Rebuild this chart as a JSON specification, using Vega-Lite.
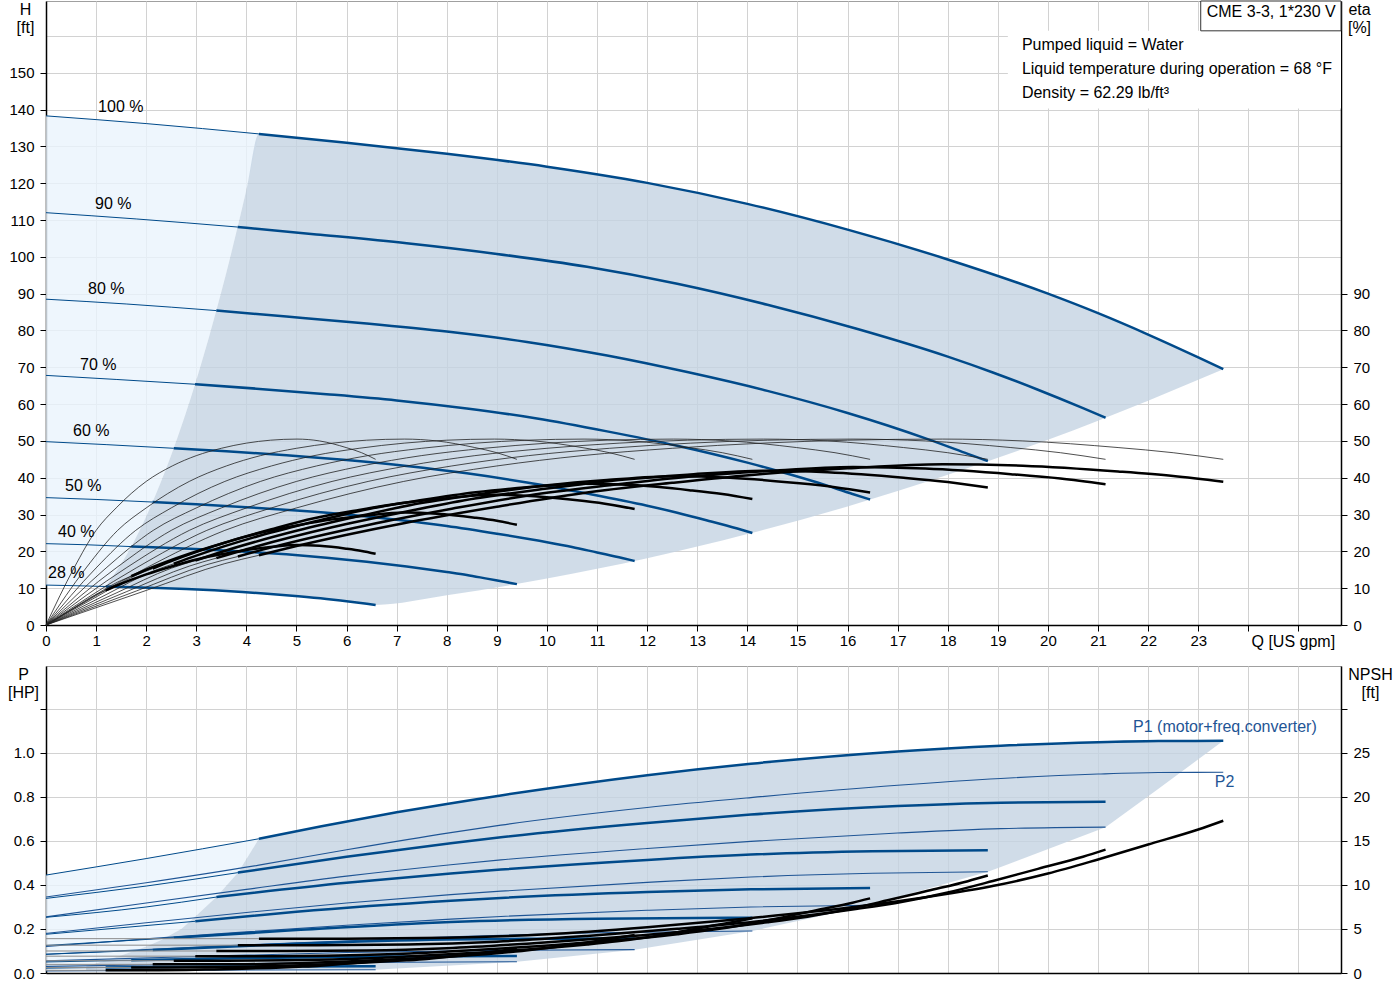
{
"$schema": "https://vega.github.io/schema/vega-lite/v6.json",
"padding": {"left": 6, "top": 0, "right": 0, "bottom": 0},
"autosize": {"type": "pad"},
"background": "white",
"spacing": 41,
"bounds": "flush",
"config": {
  "font": "Liberation Sans",
  "view": {"stroke": "#a0a0a0", "strokeWidth": 1},
  "axis": {"labelFont": "Liberation Sans", "titleFont": "Liberation Sans", "labelFontSize": 15, "titleFontSize": 16, "titleFontWeight": "normal", "labelColor": "#000", "titleColor": "#000", "domainColor": "#000", "tickColor": "#000", "gridColor": "#d2d2d2", "gridWidth": 1, "domainWidth": 1.5, "tickSize": 6},
  "text": {"font": "Liberation Sans"}
},
"datasets": {
  "lightTop": [
    {"Q":0,"H":138.3,"H2":10.84},{"Q":0.56,"H":137.7,"H2":10.68},{"Q":1.19,"H":137.0,"H2":10.46},{"Q":1.5,"H":136.7,"H2":16.6},{"Q":2,"H":136.2,"H2":29.5},{"Q":2.5,"H":135.6,"H2":46.2},{"Q":3,"H":135.0,"H2":66.5},{"Q":3.5,"H":134.3,"H2":90.5},{"Q":4,"H":133.7,"H2":118.2},{"Q":4.25,"H":133.4,"H2":133.4}
  ],
  "darkTop": [
    {"Q":1.19,"H":10.46,"H2":10.46},{"Q":1.5,"H":16.6,"H2":10.33},{"Q":2,"H":29.5,"H2":10.15},{"Q":2.5,"H":46.2,"H2":9.93},{"Q":3,"H":66.5,"H2":9.67},{"Q":3.5,"H":90.5,"H2":9.32},{"Q":4,"H":118.2,"H2":8.88},{"Q":4.25,"H":133.4,"H2":8.65},{"Q":5,"H":132.4,"H2":7.83},{"Q":5.6,"H":131.5,"H2":7.06},{"Q":6,"H":131.0,"H2":6.44},{"Q":6.58,"H":130.1,"H2":5.45},{"Q":8,"H":128.0,"H2":8.05},{"Q":10,"H":124.5,"H2":12.6},{"Q":12,"H":120.1,"H2":18.1},{"Q":14,"H":114.4,"H2":24.7},{"Q":16,"H":107.4,"H2":32.2},{"Q":18,"H":99.3,"H2":40.8},{"Q":20,"H":90.0,"H2":50.3},{"Q":21,"H":84.7,"H2":55.5},{"Q":22,"H":78.9,"H2":60.9},{"Q":23,"H":72.7,"H2":66.6},{"Q":23.5,"H":69.5,"H2":69.5}
  ],
  "whiteBox": [{"Q":19.2,"Q2":25.85,"H":140.3,"H2":161.4}],
  "cmeBox": [{"Q":23.05,"Q2":25.85,"H":161.4,"H2":169.5}],
  "cmeText": [{"Q":23.17,"H":166.4,"t":"CME 3-3, 1*230 V"}],
  "notes": [
    {"Q":19.48,"H":157.6,"t":"Pumped liquid = Water"},
    {"Q":19.48,"H":151.1,"t":"Liquid temperature during operation = 68 °F"},
    {"Q":19.48,"H":144.6,"t":"Density = 62.29 lb/ft³"}
  ],
  "speedLbl": [
    {"Q":1.04,"H":140.8,"t":"100 %"},{"Q":0.98,"H":114.4,"t":"90 %"},{"Q":0.84,"H":91.3,"t":"80 %"},{"Q":0.68,"H":70.7,"t":"70 %"},{"Q":0.54,"H":52.7,"t":"60 %"},{"Q":0.38,"H":37.8,"t":"50 %"},{"Q":0.24,"H":25.3,"t":"40 %"},{"Q":0.04,"H":14.1,"t":"28 %"}
  ],
  "Hc": [
    {"s":1,"Q":0,"H":138.3},{"s":1,"Q":2,"H":136.2},{"s":1,"Q":4.25,"H":133.4},{"s":1,"Q":6,"H":131.0},{"s":1,"Q":8,"H":128.0},{"s":1,"Q":10,"H":124.5},{"s":1,"Q":12,"H":120.1},{"s":1,"Q":14,"H":114.4},{"s":1,"Q":16,"H":107.4},{"s":1,"Q":18,"H":99.3},{"s":1,"Q":20,"H":90.0},{"s":1,"Q":21,"H":84.7},{"s":1,"Q":22,"H":78.9},{"s":1,"Q":23,"H":72.7},{"s":1,"Q":23.5,"H":69.5},
    {"s":0.9,"Q":0,"H":112.0},{"s":0.9,"Q":1.8,"H":110.3},{"s":0.9,"Q":3.825,"H":108.1},{"s":0.9,"Q":5.4,"H":106.1},{"s":0.9,"Q":7.2,"H":103.7},{"s":0.9,"Q":9,"H":100.8},{"s":0.9,"Q":10.8,"H":97.3},{"s":0.9,"Q":12.6,"H":92.7},{"s":0.9,"Q":14.4,"H":87.0},{"s":0.9,"Q":16.2,"H":80.4},{"s":0.9,"Q":18,"H":72.9},{"s":0.9,"Q":18.9,"H":68.6},{"s":0.9,"Q":19.8,"H":63.9},{"s":0.9,"Q":20.7,"H":58.9},{"s":0.9,"Q":21.15,"H":56.3},
    {"s":0.8,"Q":0,"H":88.5},{"s":0.8,"Q":1.6,"H":87.2},{"s":0.8,"Q":3.4,"H":85.4},{"s":0.8,"Q":4.8,"H":83.8},{"s":0.8,"Q":6.4,"H":81.9},{"s":0.8,"Q":8,"H":79.7},{"s":0.8,"Q":9.6,"H":76.9},{"s":0.8,"Q":11.2,"H":73.2},{"s":0.8,"Q":12.8,"H":68.7},{"s":0.8,"Q":14.4,"H":63.6},{"s":0.8,"Q":16,"H":57.6},{"s":0.8,"Q":16.8,"H":54.2},{"s":0.8,"Q":17.6,"H":50.5},{"s":0.8,"Q":18.4,"H":46.5},{"s":0.8,"Q":18.8,"H":44.5},
    {"s":0.7,"Q":0,"H":67.8},{"s":0.7,"Q":1.4,"H":66.7},{"s":0.7,"Q":2.975,"H":65.4},{"s":0.7,"Q":4.2,"H":64.2},{"s":0.7,"Q":5.6,"H":62.7},{"s":0.7,"Q":7,"H":61.0},{"s":0.7,"Q":8.4,"H":58.8},{"s":0.7,"Q":9.8,"H":56.1},{"s":0.7,"Q":11.2,"H":52.6},{"s":0.7,"Q":12.6,"H":48.7},{"s":0.7,"Q":14,"H":44.1},{"s":0.7,"Q":14.7,"H":41.5},{"s":0.7,"Q":15.4,"H":38.7},{"s":0.7,"Q":16.1,"H":35.6},{"s":0.7,"Q":16.45,"H":34.1},
    {"s":0.6,"Q":0,"H":49.8},{"s":0.6,"Q":1.2,"H":49.0},{"s":0.6,"Q":2.55,"H":48.0},{"s":0.6,"Q":3.6,"H":47.2},{"s":0.6,"Q":4.8,"H":46.1},{"s":0.6,"Q":6,"H":44.8},{"s":0.6,"Q":7.2,"H":43.2},{"s":0.6,"Q":8.4,"H":41.2},{"s":0.6,"Q":9.6,"H":38.7},{"s":0.6,"Q":10.8,"H":35.7},{"s":0.6,"Q":12,"H":32.4},{"s":0.6,"Q":12.6,"H":30.5},{"s":0.6,"Q":13.2,"H":28.4},{"s":0.6,"Q":13.8,"H":26.2},{"s":0.6,"Q":14.1,"H":25.0},
    {"s":0.5,"Q":0,"H":34.6},{"s":0.5,"Q":1,"H":34.1},{"s":0.5,"Q":2.125,"H":33.4},{"s":0.5,"Q":3,"H":32.8},{"s":0.5,"Q":4,"H":32.0},{"s":0.5,"Q":5,"H":31.1},{"s":0.5,"Q":6,"H":30.0},{"s":0.5,"Q":7,"H":28.6},{"s":0.5,"Q":8,"H":26.9},{"s":0.5,"Q":9,"H":24.8},{"s":0.5,"Q":10,"H":22.5},{"s":0.5,"Q":10.5,"H":21.2},{"s":0.5,"Q":11,"H":19.7},{"s":0.5,"Q":11.5,"H":18.2},{"s":0.5,"Q":11.75,"H":17.4},
    {"s":0.4,"Q":0,"H":22.1},{"s":0.4,"Q":0.8,"H":21.8},{"s":0.4,"Q":1.7,"H":21.3},{"s":0.4,"Q":2.4,"H":21.0},{"s":0.4,"Q":3.2,"H":20.5},{"s":0.4,"Q":4,"H":19.9},{"s":0.4,"Q":4.8,"H":19.2},{"s":0.4,"Q":5.6,"H":18.3},{"s":0.4,"Q":6.4,"H":17.2},{"s":0.4,"Q":7.2,"H":15.9},{"s":0.4,"Q":8,"H":14.4},{"s":0.4,"Q":8.4,"H":13.6},{"s":0.4,"Q":8.8,"H":12.6},{"s":0.4,"Q":9.2,"H":11.6},{"s":0.4,"Q":9.4,"H":11.1},
    {"s":0.28,"Q":0,"H":10.84},{"s":0.28,"Q":0.56,"H":10.68},{"s":0.28,"Q":1.19,"H":10.46},{"s":0.28,"Q":1.68,"H":10.27},{"s":0.28,"Q":2.24,"H":10.04},{"s":0.28,"Q":2.8,"H":9.76},{"s":0.28,"Q":3.36,"H":9.42},{"s":0.28,"Q":3.92,"H":8.97},{"s":0.28,"Q":4.48,"H":8.42},{"s":0.28,"Q":5.04,"H":7.79},{"s":0.28,"Q":5.6,"H":7.06},{"s":0.28,"Q":5.88,"H":6.64},{"s":0.28,"Q":6.16,"H":6.19},{"s":0.28,"Q":6.44,"H":5.7},{"s":0.28,"Q":6.58,"H":5.45}
  ],
  "etaP": [
    {"s":1,"Q":0,"E":0},{"s":1,"Q":2,"E":15.5},{"s":1,"Q":3.57,"E":25.7},{"s":1,"Q":5,"E":31.8},{"s":1,"Q":7.14,"E":39},{"s":1,"Q":9,"E":43.2},{"s":1,"Q":10.7,"E":46},{"s":1,"Q":12.5,"E":48},{"s":1,"Q":14.3,"E":49.4},{"s":1,"Q":16,"E":50.2},{"s":1,"Q":17.9,"E":50.5},{"s":1,"Q":19.5,"E":50},{"s":1,"Q":21.4,"E":48.2},{"s":1,"Q":22.5,"E":46.8},{"s":1,"Q":23.5,"E":45},
    {"s":0.9,"Q":0,"E":0},{"s":0.9,"Q":1.8,"E":15.5},{"s":0.9,"Q":3.21,"E":25.7},{"s":0.9,"Q":4.5,"E":31.8},{"s":0.9,"Q":6.43,"E":39},{"s":0.9,"Q":8.1,"E":43.2},{"s":0.9,"Q":9.63,"E":46},{"s":0.9,"Q":11.25,"E":48},{"s":0.9,"Q":12.87,"E":49.4},{"s":0.9,"Q":14.4,"E":50.2},{"s":0.9,"Q":16.11,"E":50.5},{"s":0.9,"Q":17.55,"E":50},{"s":0.9,"Q":19.26,"E":48.2},{"s":0.9,"Q":20.25,"E":46.8},{"s":0.9,"Q":21.15,"E":45},
    {"s":0.8,"Q":0,"E":0},{"s":0.8,"Q":1.6,"E":15.5},{"s":0.8,"Q":2.86,"E":25.7},{"s":0.8,"Q":4,"E":31.8},{"s":0.8,"Q":5.71,"E":39},{"s":0.8,"Q":7.2,"E":43.2},{"s":0.8,"Q":8.56,"E":46},{"s":0.8,"Q":10,"E":48},{"s":0.8,"Q":11.44,"E":49.4},{"s":0.8,"Q":12.8,"E":50.2},{"s":0.8,"Q":14.32,"E":50.5},{"s":0.8,"Q":15.6,"E":50},{"s":0.8,"Q":17.12,"E":48.2},{"s":0.8,"Q":18,"E":46.8},{"s":0.8,"Q":18.8,"E":45},
    {"s":0.7,"Q":0,"E":0},{"s":0.7,"Q":1.4,"E":15.5},{"s":0.7,"Q":2.5,"E":25.7},{"s":0.7,"Q":3.5,"E":31.8},{"s":0.7,"Q":5,"E":39},{"s":0.7,"Q":6.3,"E":43.2},{"s":0.7,"Q":7.49,"E":46},{"s":0.7,"Q":8.75,"E":48},{"s":0.7,"Q":10.01,"E":49.4},{"s":0.7,"Q":11.2,"E":50.2},{"s":0.7,"Q":12.53,"E":50.5},{"s":0.7,"Q":13.65,"E":50},{"s":0.7,"Q":14.98,"E":48.2},{"s":0.7,"Q":15.75,"E":46.8},{"s":0.7,"Q":16.45,"E":45},
    {"s":0.6,"Q":0,"E":0},{"s":0.6,"Q":1.2,"E":15.5},{"s":0.6,"Q":2.14,"E":25.7},{"s":0.6,"Q":3,"E":31.8},{"s":0.6,"Q":4.28,"E":39},{"s":0.6,"Q":5.4,"E":43.2},{"s":0.6,"Q":6.42,"E":46},{"s":0.6,"Q":7.5,"E":48},{"s":0.6,"Q":8.58,"E":49.4},{"s":0.6,"Q":9.6,"E":50.2},{"s":0.6,"Q":10.74,"E":50.5},{"s":0.6,"Q":11.7,"E":50},{"s":0.6,"Q":12.84,"E":48.2},{"s":0.6,"Q":13.5,"E":46.8},{"s":0.6,"Q":14.1,"E":45},
    {"s":0.5,"Q":0,"E":0},{"s":0.5,"Q":1,"E":15.5},{"s":0.5,"Q":1.79,"E":25.7},{"s":0.5,"Q":2.5,"E":31.8},{"s":0.5,"Q":3.57,"E":39},{"s":0.5,"Q":4.5,"E":43.2},{"s":0.5,"Q":5.35,"E":46},{"s":0.5,"Q":6.25,"E":48},{"s":0.5,"Q":7.15,"E":49.4},{"s":0.5,"Q":8,"E":50.2},{"s":0.5,"Q":8.95,"E":50.5},{"s":0.5,"Q":9.75,"E":50},{"s":0.5,"Q":10.7,"E":48.2},{"s":0.5,"Q":11.25,"E":46.8},{"s":0.5,"Q":11.75,"E":45},
    {"s":0.4,"Q":0,"E":0},{"s":0.4,"Q":0.8,"E":15.5},{"s":0.4,"Q":1.43,"E":25.7},{"s":0.4,"Q":2,"E":31.8},{"s":0.4,"Q":2.86,"E":39},{"s":0.4,"Q":3.6,"E":43.2},{"s":0.4,"Q":4.28,"E":46},{"s":0.4,"Q":5,"E":48},{"s":0.4,"Q":5.72,"E":49.4},{"s":0.4,"Q":6.4,"E":50.2},{"s":0.4,"Q":7.16,"E":50.5},{"s":0.4,"Q":7.8,"E":50},{"s":0.4,"Q":8.56,"E":48.2},{"s":0.4,"Q":9,"E":46.8},{"s":0.4,"Q":9.4,"E":45},
    {"s":0.28,"Q":0,"E":0},{"s":0.28,"Q":0.56,"E":15.5},{"s":0.28,"Q":1,"E":25.7},{"s":0.28,"Q":1.4,"E":31.8},{"s":0.28,"Q":2,"E":39},{"s":0.28,"Q":2.52,"E":43.2},{"s":0.28,"Q":3,"E":46},{"s":0.28,"Q":3.5,"E":48},{"s":0.28,"Q":4,"E":49.4},{"s":0.28,"Q":4.48,"E":50.2},{"s":0.28,"Q":5.01,"E":50.5},{"s":0.28,"Q":5.46,"E":50},{"s":0.28,"Q":5.99,"E":48.2},{"s":0.28,"Q":6.3,"E":46.8},{"s":0.28,"Q":6.58,"E":45}
  ],
  "etaT": [
    {"s":1,"Q":0,"E":0},{"s":1,"Q":2,"E":9.39},{"s":1,"Q":3.57,"E":16.68},{"s":1,"Q":4.25,"E":18.93},{"s":1,"Q":5,"E":21.45},{"s":1,"Q":7.14,"E":27.66},{"s":1,"Q":9,"E":32.13},{"s":1,"Q":10.7,"E":35.81},{"s":1,"Q":12.5,"E":38.61},{"s":1,"Q":14.3,"E":41.02},{"s":1,"Q":16,"E":42.56},{"s":1,"Q":17.9,"E":43.68},{"s":1,"Q":19.5,"E":43.25},{"s":1,"Q":21.4,"E":41.69},{"s":1,"Q":22.5,"E":40.48},{"s":1,"Q":23.5,"E":38.93},
    {"s":0.9,"Q":0,"E":0},{"s":0.9,"Q":1.8,"E":9.22},{"s":0.9,"Q":3.21,"E":16.39},{"s":0.9,"Q":3.83,"E":18.6},{"s":0.9,"Q":4.5,"E":21.08},{"s":0.9,"Q":6.43,"E":27.18},{"s":0.9,"Q":8.1,"E":31.58},{"s":0.9,"Q":9.63,"E":35.19},{"s":0.9,"Q":11.25,"E":37.94},{"s":0.9,"Q":12.87,"E":40.31},{"s":0.9,"Q":14.4,"E":41.82},{"s":0.9,"Q":16.11,"E":42.93},{"s":0.9,"Q":17.55,"E":42.5},{"s":0.9,"Q":19.26,"E":40.97},{"s":0.9,"Q":20.25,"E":39.78},{"s":0.9,"Q":21.15,"E":38.25},
    {"s":0.8,"Q":0,"E":0},{"s":0.8,"Q":1.6,"E":9.01},{"s":0.8,"Q":2.86,"E":16.0},{"s":0.8,"Q":3.4,"E":18.16},{"s":0.8,"Q":4,"E":20.58},{"s":0.8,"Q":5.71,"E":26.54},{"s":0.8,"Q":7.2,"E":30.83},{"s":0.8,"Q":8.56,"E":34.36},{"s":0.8,"Q":10,"E":37.05},{"s":0.8,"Q":11.44,"E":39.36},{"s":0.8,"Q":12.8,"E":40.84},{"s":0.8,"Q":14.32,"E":41.92},{"s":0.8,"Q":15.6,"E":41.5},{"s":0.8,"Q":17.12,"E":40.01},{"s":0.8,"Q":18,"E":38.84},{"s":0.8,"Q":18.8,"E":37.35},
    {"s":0.7,"Q":0,"E":0},{"s":0.7,"Q":1.4,"E":8.68},{"s":0.7,"Q":2.5,"E":15.42},{"s":0.7,"Q":2.98,"E":17.5},{"s":0.7,"Q":3.5,"E":19.84},{"s":0.7,"Q":5,"E":25.58},{"s":0.7,"Q":6.3,"E":29.72},{"s":0.7,"Q":7.49,"E":33.12},{"s":0.7,"Q":8.75,"E":35.71},{"s":0.7,"Q":10.01,"E":37.94},{"s":0.7,"Q":11.2,"E":39.36},{"s":0.7,"Q":12.53,"E":40.4},{"s":0.7,"Q":13.65,"E":40.0},{"s":0.7,"Q":14.98,"E":38.56},{"s":0.7,"Q":15.75,"E":37.44},{"s":0.7,"Q":16.45,"E":36.0},
    {"s":0.6,"Q":0,"E":0},{"s":0.6,"Q":1.2,"E":8.25},{"s":0.6,"Q":2.14,"E":14.65},{"s":0.6,"Q":2.55,"E":16.63},{"s":0.6,"Q":3,"E":18.85},{"s":0.6,"Q":4.28,"E":24.3},{"s":0.6,"Q":5.4,"E":28.23},{"s":0.6,"Q":6.42,"E":31.46},{"s":0.6,"Q":7.5,"E":33.93},{"s":0.6,"Q":8.58,"E":36.04},{"s":0.6,"Q":9.6,"E":37.39},{"s":0.6,"Q":10.74,"E":38.38},{"s":0.6,"Q":11.7,"E":38.0},{"s":0.6,"Q":12.84,"E":36.63},{"s":0.6,"Q":13.5,"E":35.57},{"s":0.6,"Q":14.1,"E":34.2},
    {"s":0.5,"Q":0,"E":0},{"s":0.5,"Q":1,"E":7.6},{"s":0.5,"Q":1.79,"E":13.5},{"s":0.5,"Q":2.13,"E":15.32},{"s":0.5,"Q":2.5,"E":17.36},{"s":0.5,"Q":3.57,"E":22.39},{"s":0.5,"Q":4.5,"E":26.0},{"s":0.5,"Q":5.35,"E":28.98},{"s":0.5,"Q":6.25,"E":31.25},{"s":0.5,"Q":7.15,"E":33.19},{"s":0.5,"Q":8,"E":34.44},{"s":0.5,"Q":8.95,"E":35.35},{"s":0.5,"Q":9.75,"E":35.0},{"s":0.5,"Q":10.7,"E":33.74},{"s":0.5,"Q":11.25,"E":32.76},{"s":0.5,"Q":11.75,"E":31.5},
    {"s":0.4,"Q":0,"E":0},{"s":0.4,"Q":0.8,"E":6.56},{"s":0.4,"Q":1.43,"E":11.66},{"s":0.4,"Q":1.7,"E":13.24},{"s":0.4,"Q":2,"E":15.0},{"s":0.4,"Q":2.86,"E":19.35},{"s":0.4,"Q":3.6,"E":22.48},{"s":0.4,"Q":4.28,"E":25.05},{"s":0.4,"Q":5,"E":27.01},{"s":0.4,"Q":5.72,"E":28.69},{"s":0.4,"Q":6.4,"E":29.77},{"s":0.4,"Q":7.16,"E":30.55},{"s":0.4,"Q":7.8,"E":30.25},{"s":0.4,"Q":8.56,"E":29.16},{"s":0.4,"Q":9,"E":28.31},{"s":0.4,"Q":9.4,"E":27.23},
    {"s":0.28,"Q":0,"E":0},{"s":0.28,"Q":0.56,"E":4.67},{"s":0.28,"Q":1,"E":8.29},{"s":0.28,"Q":1.19,"E":9.41},{"s":0.28,"Q":1.4,"E":10.66},{"s":0.28,"Q":2,"E":13.75},{"s":0.28,"Q":2.52,"E":15.97},{"s":0.28,"Q":3,"E":17.8},{"s":0.28,"Q":3.5,"E":19.2},{"s":0.28,"Q":4,"E":20.39},{"s":0.28,"Q":4.48,"E":21.16},{"s":0.28,"Q":5.01,"E":21.72},{"s":0.28,"Q":5.46,"E":21.5},{"s":0.28,"Q":5.99,"E":20.73},{"s":0.28,"Q":6.3,"E":20.12},{"s":0.28,"Q":6.58,"E":19.35}
  ],
  "lightBot": [
    {"Q":0,"P":0.445,"Pb":0.01},{"Q":0.8,"P":0.475,"Pb":0.03},{"Q":1.04,"P":0.484,"Pb":0.047},{"Q":1.5,"P":0.501,"Pb":0.08},{"Q":2.03,"P":0.521,"Pb":0.123},{"Q":2.3,"P":0.531,"Pb":0.15},{"Q":2.7,"P":0.546,"Pb":0.2},{"Q":2.95,"P":0.556,"Pb":0.25},{"Q":3.4,"P":0.576,"Pb":0.345},{"Q":3.83,"P":0.593,"Pb":0.456},{"Q":4.25,"P":0.61,"Pb":0.61}
  ],
  "darkBot": [
    {"Q":0.8,"P":0.03,"Pb":0.012},{"Q":1.04,"P":0.047,"Pb":0.012},{"Q":1.5,"P":0.08,"Pb":0.012},{"Q":2.03,"P":0.123,"Pb":0.012},{"Q":2.3,"P":0.15,"Pb":0.012},{"Q":2.7,"P":0.2,"Pb":0.012},{"Q":2.95,"P":0.25,"Pb":0.012},{"Q":3.4,"P":0.345,"Pb":0.012},{"Q":3.83,"P":0.456,"Pb":0.012},{"Q":4.25,"P":0.61,"Pb":0.012},{"Q":5.5,"P":0.667,"Pb":0.013},{"Q":6.58,"P":0.712,"Pb":0.015},{"Q":7,"P":0.73,"Pb":0.02},{"Q":9.08,"P":0.807,"Pb":0.047},{"Q":9.4,"P":0.819,"Pb":0.051},{"Q":11.75,"P":0.892,"Pb":0.106},{"Q":12,"P":0.899,"Pb":0.115},{"Q":14.1,"P":0.952,"Pb":0.191},{"Q":16.45,"P":0.998,"Pb":0.308},{"Q":17,"P":1.007,"Pb":0.344},{"Q":18.8,"P":1.031,"Pb":0.46},{"Q":19.06,"P":1.033,"Pb":0.482},{"Q":21.15,"P":1.05,"Pb":0.662},{"Q":22.2,"P":1.054,"Pb":0.836},{"Q":23.5,"P":1.055,"Pb":1.055}
  ],
  "P1c": [
    {"s":1,"Q":0,"P":0.445},{"s":1,"Q":2,"P":0.52},{"s":1,"Q":4.25,"P":0.61},{"s":1,"Q":5.5,"P":0.667},{"s":1,"Q":7,"P":0.73},{"s":1,"Q":9.08,"P":0.807},{"s":1,"Q":12,"P":0.899},{"s":1,"Q":14.07,"P":0.951},{"s":1,"Q":17,"P":1.007},{"s":1,"Q":19.06,"P":1.033},{"s":1,"Q":21,"P":1.049},{"s":1,"Q":22.2,"P":1.054},{"s":1,"Q":23.5,"P":1.055},
    {"s":0.9,"Q":0,"P":0.339},{"s":0.9,"Q":2,"P":0.395},{"s":0.9,"Q":3.83,"P":0.456},{"s":0.9,"Q":6,"P":0.528},{"s":0.9,"Q":8.08,"P":0.59},{"s":0.9,"Q":9.08,"P":0.617},{"s":0.9,"Q":12,"P":0.682},{"s":0.9,"Q":14.07,"P":0.72},{"s":0.9,"Q":17,"P":0.759},{"s":0.9,"Q":19.06,"P":0.774},{"s":0.9,"Q":21.15,"P":0.778},
    {"s":0.8,"Q":0,"P":0.253},{"s":0.8,"Q":2,"P":0.3},{"s":0.8,"Q":3.4,"P":0.345},{"s":0.8,"Q":6,"P":0.41},{"s":0.8,"Q":8.08,"P":0.452},{"s":0.8,"Q":9.08,"P":0.47},{"s":0.8,"Q":12,"P":0.514},{"s":0.8,"Q":14.07,"P":0.538},{"s":0.8,"Q":16.5,"P":0.553},{"s":0.8,"Q":18.8,"P":0.558},
    {"s":0.7,"Q":0,"P":0.176},{"s":0.7,"Q":2.98,"P":0.235},{"s":0.7,"Q":5,"P":0.278},{"s":0.7,"Q":8.08,"P":0.328},{"s":0.7,"Q":9.08,"P":0.341},{"s":0.7,"Q":12,"P":0.368},{"s":0.7,"Q":14.07,"P":0.38},{"s":0.7,"Q":16.45,"P":0.386},
    {"s":0.6,"Q":0,"P":0.125},{"s":0.6,"Q":2.55,"P":0.16},{"s":0.6,"Q":5,"P":0.195},{"s":0.6,"Q":8.08,"P":0.232},{"s":0.6,"Q":11,"P":0.247},{"s":0.6,"Q":14.1,"P":0.251},
    {"s":0.5,"Q":0,"P":0.085},{"s":0.5,"Q":2.13,"P":0.105},{"s":0.5,"Q":5,"P":0.133},{"s":0.5,"Q":8,"P":0.152},{"s":0.5,"Q":10,"P":0.156},{"s":0.5,"Q":11.75,"P":0.157},
    {"s":0.4,"Q":0,"P":0.05},{"s":0.4,"Q":1.7,"P":0.058},{"s":0.4,"Q":4,"P":0.068},{"s":0.4,"Q":7,"P":0.075},{"s":0.4,"Q":9.4,"P":0.077},
    {"s":0.28,"Q":0,"P":0.022},{"s":0.28,"Q":1.19,"P":0.025},{"s":0.28,"Q":3.5,"P":0.029},{"s":0.28,"Q":6.58,"P":0.031}
  ],
  "P2c": [
    {"s":1,"Q":0,"P":0.345},{"s":1,"Q":2,"P":0.41},{"s":1,"Q":4.25,"P":0.49},{"s":1,"Q":6,"P":0.56},{"s":1,"Q":8.08,"P":0.638},{"s":1,"Q":9.08,"P":0.672},{"s":1,"Q":12,"P":0.752},{"s":1,"Q":14.07,"P":0.797},{"s":1,"Q":17,"P":0.853},{"s":1,"Q":19.06,"P":0.884},{"s":1,"Q":21,"P":0.904},{"s":1,"Q":22.2,"P":0.911},{"s":1,"Q":23.5,"P":0.912},
    {"s":0.9,"Q":0,"P":0.255},{"s":0.9,"Q":2,"P":0.318},{"s":0.9,"Q":4,"P":0.38},{"s":0.9,"Q":6,"P":0.44},{"s":0.9,"Q":8.08,"P":0.492},{"s":0.9,"Q":9.08,"P":0.514},{"s":0.9,"Q":12,"P":0.566},{"s":0.9,"Q":14.07,"P":0.598},{"s":0.9,"Q":17,"P":0.636},{"s":0.9,"Q":19.06,"P":0.656},{"s":0.9,"Q":21.15,"P":0.663},
    {"s":0.8,"Q":0,"P":0.18},{"s":0.8,"Q":2,"P":0.228},{"s":0.8,"Q":4,"P":0.275},{"s":0.8,"Q":6,"P":0.318},{"s":0.8,"Q":8.08,"P":0.356},{"s":0.8,"Q":9.08,"P":0.372},{"s":0.8,"Q":12,"P":0.412},{"s":0.8,"Q":14.07,"P":0.436},{"s":0.8,"Q":16.5,"P":0.453},{"s":0.8,"Q":18.8,"P":0.46},
    {"s":0.7,"Q":0,"P":0.12},{"s":0.7,"Q":2,"P":0.155},{"s":0.7,"Q":4,"P":0.187},{"s":0.7,"Q":6,"P":0.217},{"s":0.7,"Q":8.08,"P":0.245},{"s":0.7,"Q":9.08,"P":0.257},{"s":0.7,"Q":12,"P":0.285},{"s":0.7,"Q":14.07,"P":0.3},{"s":0.7,"Q":16.45,"P":0.308},
    {"s":0.6,"Q":0,"P":0.085},{"s":0.6,"Q":2,"P":0.107},{"s":0.6,"Q":4,"P":0.128},{"s":0.6,"Q":8.08,"P":0.165},{"s":0.6,"Q":11,"P":0.183},{"s":0.6,"Q":14.1,"P":0.191},
    {"s":0.5,"Q":0,"P":0.055},{"s":0.5,"Q":3,"P":0.075},{"s":0.5,"Q":6,"P":0.093},{"s":0.5,"Q":9,"P":0.103},{"s":0.5,"Q":11.75,"P":0.106},
    {"s":0.4,"Q":0,"P":0.03},{"s":0.4,"Q":3,"P":0.04},{"s":0.4,"Q":6,"P":0.048},{"s":0.4,"Q":9.4,"P":0.051},
    {"s":0.28,"Q":0,"P":0.009},{"s":0.28,"Q":3,"P":0.013},{"s":0.28,"Q":6.58,"P":0.015}
  ],
  "pLbl": [
    {"Q":21.7,"P":1.118,"t":"P1 (motor+freq.converter)"},{"Q":23.33,"P":0.868,"t":"P2"}
  ],
  "Nc": [
    {"s":1,"Q":0,"N":3.9},{"s":1,"Q":4.25,"N":3.9},{"s":1,"Q":6,"N":3.9},{"s":1,"Q":8,"N":4.0},{"s":1,"Q":10,"N":4.4},{"s":1,"Q":12,"N":5.2},{"s":1,"Q":14,"N":6.2},{"s":1,"Q":16,"N":7.4},{"s":1,"Q":18,"N":9.0},{"s":1,"Q":19,"N":10.0},{"s":1,"Q":20,"N":11.3},{"s":1,"Q":21,"N":12.9},{"s":1,"Q":22,"N":14.6},{"s":1,"Q":23,"N":16.3},{"s":1,"Q":23.5,"N":17.3},
    {"s":0.9,"Q":0,"N":3.16},{"s":0.9,"Q":3.83,"N":3.16},{"s":0.9,"Q":5.4,"N":3.16},{"s":0.9,"Q":7.2,"N":3.24},{"s":0.9,"Q":9,"N":3.56},{"s":0.9,"Q":10.8,"N":4.21},{"s":0.9,"Q":12.6,"N":5.02},{"s":0.9,"Q":14.4,"N":5.99},{"s":0.9,"Q":16.2,"N":7.29},{"s":0.9,"Q":17.1,"N":8.1},{"s":0.9,"Q":18,"N":9.15},{"s":0.9,"Q":18.9,"N":10.45},{"s":0.9,"Q":19.8,"N":11.83},{"s":0.9,"Q":20.7,"N":13.2},{"s":0.9,"Q":21.15,"N":14.01},
    {"s":0.8,"Q":0,"N":2.5},{"s":0.8,"Q":3.4,"N":2.5},{"s":0.8,"Q":4.8,"N":2.5},{"s":0.8,"Q":6.4,"N":2.56},{"s":0.8,"Q":8,"N":2.82},{"s":0.8,"Q":9.6,"N":3.33},{"s":0.8,"Q":11.2,"N":3.97},{"s":0.8,"Q":12.8,"N":4.74},{"s":0.8,"Q":14.4,"N":5.76},{"s":0.8,"Q":15.2,"N":6.4},{"s":0.8,"Q":16,"N":7.23},{"s":0.8,"Q":16.8,"N":8.26},{"s":0.8,"Q":17.6,"N":9.34},{"s":0.8,"Q":18.4,"N":10.43},{"s":0.8,"Q":18.8,"N":11.07},
    {"s":0.7,"Q":0,"N":1.91},{"s":0.7,"Q":2.98,"N":1.91},{"s":0.7,"Q":4.2,"N":1.91},{"s":0.7,"Q":5.6,"N":1.96},{"s":0.7,"Q":7,"N":2.16},{"s":0.7,"Q":8.4,"N":2.55},{"s":0.7,"Q":9.8,"N":3.04},{"s":0.7,"Q":11.2,"N":3.63},{"s":0.7,"Q":12.6,"N":4.41},{"s":0.7,"Q":13.3,"N":4.9},{"s":0.7,"Q":14,"N":5.54},{"s":0.7,"Q":14.7,"N":6.32},{"s":0.7,"Q":15.4,"N":7.15},{"s":0.7,"Q":16.1,"N":7.99},{"s":0.7,"Q":16.45,"N":8.48},
    {"s":0.6,"Q":0,"N":1.4},{"s":0.6,"Q":2.55,"N":1.4},{"s":0.6,"Q":3.6,"N":1.4},{"s":0.6,"Q":4.8,"N":1.44},{"s":0.6,"Q":6,"N":1.58},{"s":0.6,"Q":7.2,"N":1.87},{"s":0.6,"Q":8.4,"N":2.23},{"s":0.6,"Q":9.6,"N":2.66},{"s":0.6,"Q":10.8,"N":3.24},{"s":0.6,"Q":11.4,"N":3.6},{"s":0.6,"Q":12,"N":4.07},{"s":0.6,"Q":12.6,"N":4.64},{"s":0.6,"Q":13.2,"N":5.26},{"s":0.6,"Q":13.8,"N":5.87},{"s":0.6,"Q":14.1,"N":6.23},
    {"s":0.5,"Q":0,"N":0.98},{"s":0.5,"Q":2.13,"N":0.98},{"s":0.5,"Q":3,"N":0.98},{"s":0.5,"Q":4,"N":1.0},{"s":0.5,"Q":5,"N":1.1},{"s":0.5,"Q":6,"N":1.3},{"s":0.5,"Q":7,"N":1.55},{"s":0.5,"Q":8,"N":1.85},{"s":0.5,"Q":9,"N":2.25},{"s":0.5,"Q":9.5,"N":2.5},{"s":0.5,"Q":10,"N":2.83},{"s":0.5,"Q":10.5,"N":3.23},{"s":0.5,"Q":11,"N":3.65},{"s":0.5,"Q":11.5,"N":4.08},{"s":0.5,"Q":11.75,"N":4.33},
    {"s":0.4,"Q":0,"N":0.62},{"s":0.4,"Q":1.7,"N":0.62},{"s":0.4,"Q":2.4,"N":0.62},{"s":0.4,"Q":3.2,"N":0.64},{"s":0.4,"Q":4,"N":0.7},{"s":0.4,"Q":4.8,"N":0.83},{"s":0.4,"Q":5.6,"N":0.99},{"s":0.4,"Q":6.4,"N":1.18},{"s":0.4,"Q":7.2,"N":1.44},{"s":0.4,"Q":7.6,"N":1.6},{"s":0.4,"Q":8,"N":1.81},{"s":0.4,"Q":8.4,"N":2.06},{"s":0.4,"Q":8.8,"N":2.34},{"s":0.4,"Q":9.2,"N":2.61},{"s":0.4,"Q":9.4,"N":2.77},
    {"s":0.28,"Q":0,"N":0.31},{"s":0.28,"Q":1.19,"N":0.31},{"s":0.28,"Q":1.68,"N":0.31},{"s":0.28,"Q":2.24,"N":0.31},{"s":0.28,"Q":2.8,"N":0.34},{"s":0.28,"Q":3.36,"N":0.41},{"s":0.28,"Q":3.92,"N":0.49},{"s":0.28,"Q":4.48,"N":0.58},{"s":0.28,"Q":5.04,"N":0.71},{"s":0.28,"Q":5.32,"N":0.78},{"s":0.28,"Q":5.6,"N":0.89},{"s":0.28,"Q":5.88,"N":1.01},{"s":0.28,"Q":6.16,"N":1.14},{"s":0.28,"Q":6.44,"N":1.28},{"s":0.28,"Q":6.58,"N":1.36}
  ]
},
"vconcat": [
  {
    "width": 1295, "height": 624,
    "resolve": {"scale": {"y": "independent"}},
    "encoding": {
      "x": {"field": "Q", "type": "quantitative", "scale": {"domain": [0, 25.85], "nice": false, "zero": false},
            "axis": {"values": [0,1,2,3,4,5,6,7,8,9,10,11,12,13,14,15,16,17,18,19,20,21,22,23,24,25], "labelExpr": "datum.value > 23 ? '' : datum.label", "grid": true, "title": "Q [US gpm]", "titleX": 1205, "titleY": 8, "titleAlign": "left", "titleBaseline": "top", "labelPadding": 2, "labelFlush": false, "labelOverlap": false}}
    },
    "layer": [
      {
        "encoding": {
          "y": {"field": "H", "type": "quantitative", "scale": {"domain": [0, 169.5], "nice": false, "zero": false},
                "axis": {"values": [0,10,20,30,40,50,60,70,80,90,100,110,120,130,140,150,160], "labelExpr": "datum.value > 150 ? '' : datum.label", "tickOpacity": {"condition": {"test": "datum.value > 150", "value": 0}, "value": 1}, "grid": true, "title": ["H", "[ft]"], "titleAngle": 0, "titleX": -21, "titleY": 0, "titleAlign": "center", "titleBaseline": "top", "titleLineHeight": 18, "labelPadding": 6, "labelOverlap": false}}
        },
        "layer": [
          {"data": {"name": "lightTop"}, "mark": {"type": "area", "color": "#EAF4FC", "opacity": 0.8, "interpolate": "monotone"}, "encoding": {"y2": {"field": "H2"}}},
          {"data": {"name": "darkTop"}, "mark": {"type": "area", "color": "#C4D3E2", "opacity": 0.8, "interpolate": "monotone"}, "encoding": {"y2": {"field": "H2"}}},
          {"data": {"name": "whiteBox"}, "mark": {"type": "rect", "color": "white"}, "encoding": {"x2": {"field": "Q2"}, "y2": {"field": "H2"}}},
          {"data": {"name": "Hc"}, "transform": [{"filter": "datum.Q <= 4.27*datum.s"}], "mark": {"type": "line", "color": "#004A8A", "strokeWidth": 1, "interpolate": "monotone"}, "encoding": {"detail": {"field": "s", "type": "nominal"}}},
          {"data": {"name": "Hc"}, "transform": [{"filter": "datum.Q >= 4.23*datum.s"}], "mark": {"type": "line", "color": "#004A8A", "strokeWidth": 2.5, "interpolate": "monotone"}, "encoding": {"detail": {"field": "s", "type": "nominal"}}},
          {"data": {"name": "speedLbl"}, "mark": {"type": "text", "align": "left", "baseline": "middle", "fontSize": 16, "color": "#000"}, "encoding": {"text": {"field": "t"}}},
          {"data": {"name": "notes"}, "mark": {"type": "text", "align": "left", "baseline": "middle", "fontSize": 16, "color": "#000"}, "encoding": {"text": {"field": "t"}}},
          {"data": {"name": "cmeBox"}, "mark": {"type": "rect", "fill": "white", "stroke": "#333", "strokeWidth": 1}, "encoding": {"x2": {"field": "Q2"}, "y2": {"field": "H2"}}},
          {"data": {"name": "cmeText"}, "mark": {"type": "text", "align": "left", "baseline": "middle", "fontSize": 16, "color": "#000"}, "encoding": {"text": {"field": "t"}}}
        ]
      },
      {
        "encoding": {
          "y": {"field": "E", "type": "quantitative", "scale": {"domain": [0, 169.5], "nice": false, "zero": false},
                "axis": {"orient": "right", "values": [0,10,20,30,40,50,60,70,80,90], "grid": false, "title": ["eta", "[%]"], "titleAngle": 0, "titleX": 18, "titleY": 0, "titleAlign": "center", "titleBaseline": "top", "titleLineHeight": 18, "labelPadding": 6, "labelOverlap": false}}
        },
        "layer": [
          {"data": {"name": "etaP"}, "mark": {"type": "line", "color": "#222", "strokeWidth": 0.8, "interpolate": "monotone"}, "encoding": {"detail": {"field": "s", "type": "nominal"}}},
          {"data": {"name": "etaT"}, "transform": [{"filter": "datum.Q <= 4.27*datum.s"}], "mark": {"type": "line", "color": "#222", "strokeWidth": 0.8, "interpolate": "monotone"}, "encoding": {"detail": {"field": "s", "type": "nominal"}}},
          {"data": {"name": "etaT"}, "transform": [{"filter": "datum.Q >= 4.23*datum.s"}], "mark": {"type": "line", "color": "#000", "strokeWidth": 2.5, "interpolate": "monotone"}, "encoding": {"detail": {"field": "s", "type": "nominal"}}}
        ]
      }
    ]
  },
  {
    "width": 1295, "height": 307,
    "resolve": {"scale": {"y": "independent"}},
    "encoding": {
      "x": {"field": "Q", "type": "quantitative", "scale": {"domain": [0, 25.85], "nice": false, "zero": false},
            "axis": {"values": [0,1,2,3,4,5,6,7,8,9,10,11,12,13,14,15,16,17,18,19,20,21,22,23,24,25], "labels": false, "ticks": false, "grid": true, "title": null}}
    },
    "layer": [
      {
        "encoding": {
          "y": {"field": "P", "type": "quantitative", "scale": {"domain": [0, 1.395], "nice": false, "zero": false},
                "axis": {"values": [0,0.2,0.4,0.6,0.8,1.0,1.2], "format": ".1f", "labelExpr": "datum.value > 1.1 ? '' : datum.label", "grid": true, "title": ["P", "[HP]"], "titleAngle": 0, "titleX": -23, "titleY": 0, "titleAlign": "center", "titleBaseline": "top", "titleLineHeight": 18, "labelPadding": 6, "labelOverlap": false}}
        },
        "layer": [
          {"data": {"name": "lightBot"}, "mark": {"type": "area", "color": "#EAF4FC", "opacity": 0.8, "interpolate": "linear"}, "encoding": {"y2": {"field": "Pb"}}},
          {"data": {"name": "darkBot"}, "mark": {"type": "area", "color": "#C4D3E2", "opacity": 0.8, "interpolate": "linear"}, "encoding": {"y2": {"field": "Pb"}}},
          {"data": {"name": "P2c"}, "mark": {"type": "line", "color": "#1F5595", "strokeWidth": 1.1, "interpolate": "monotone"}, "encoding": {"detail": {"field": "s", "type": "nominal"}}},
          {"data": {"name": "P1c"}, "transform": [{"filter": "datum.Q <= 4.27*datum.s"}], "mark": {"type": "line", "color": "#004A8A", "strokeWidth": 1, "interpolate": "monotone"}, "encoding": {"detail": {"field": "s", "type": "nominal"}}},
          {"data": {"name": "P1c"}, "transform": [{"filter": "datum.Q >= 4.23*datum.s"}], "mark": {"type": "line", "color": "#004A8A", "strokeWidth": 2.5, "interpolate": "monotone"}, "encoding": {"detail": {"field": "s", "type": "nominal"}}},
          {"data": {"name": "pLbl"}, "mark": {"type": "text", "align": "left", "baseline": "middle", "fontSize": 16, "color": "#1F5595"}, "encoding": {"text": {"field": "t"}}}
        ]
      },
      {
        "encoding": {
          "y": {"field": "N", "type": "quantitative", "scale": {"domain": [0, 34.875], "nice": false, "zero": false},
                "axis": {"orient": "right", "values": [0,5,10,15,20,25,30], "labelExpr": "datum.value > 25 ? '' : datum.label", "grid": false, "title": ["NPSH", "[ft]"], "titleAngle": 0, "titleX": 29, "titleY": 0, "titleAlign": "center", "titleBaseline": "top", "titleLineHeight": 18, "labelPadding": 6, "labelOverlap": false}}
        },
        "layer": [
          {"data": {"name": "Nc"}, "transform": [{"filter": "datum.Q <= 4.27*datum.s"}], "mark": {"type": "line", "color": "#8a8a8a", "strokeWidth": 1, "interpolate": "monotone"}, "encoding": {"detail": {"field": "s", "type": "nominal"}}},
          {"data": {"name": "Nc"}, "transform": [{"filter": "datum.Q >= 4.23*datum.s"}], "mark": {"type": "line", "color": "#000", "strokeWidth": 2.5, "interpolate": "monotone"}, "encoding": {"detail": {"field": "s", "type": "nominal"}}}
        ]
      }
    ]
  }
]
}
